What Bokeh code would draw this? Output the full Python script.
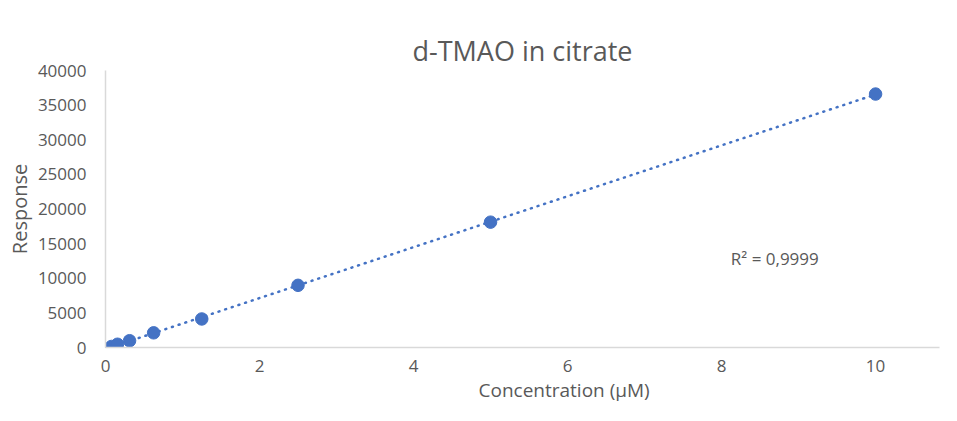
import numpy as np
from bokeh.plotting import figure
from bokeh.models import Range1d, Label, FixedTicker, Title
from bokeh.embed import file_html
from bokeh.resources import INLINE

# Data
concentration = [0.078, 0.156, 0.3125, 0.625, 1.25, 2.5, 5.0, 10.0]
response = [150, 470, 980, 2120, 4120, 8980, 18100, 36600]
x_ticks = [0, 2, 4, 6, 8, 10]
y_ticks = [0, 5000, 10000, 15000, 20000, 25000, 30000, 35000, 40000]
r2_text = "R² = 0,9999"
title_text = "d-TMAO in citrate"
x_label = "Concentration (µM)"
y_label = "Response"

BLUE = "#4472C4"
GREY = "#595959"
FONT = "Open Sans"

p = figure(width=941, height=405, output_backend="svg", toolbar_location=None,
           x_range=Range1d(0, 10.83), y_range=Range1d(0, 40000),
           min_border_left=105, min_border_right=2, min_border_top=70, min_border_bottom=58)
p.outline_line_color = None
p.xgrid.grid_line_color = None
p.ygrid.grid_line_color = None

xax = p.below[0]
yax = p.left[0]

# transparent spacer between title and plot area (added first = nearest the frame)
p.add_layout(Title(text=".", text_font_size="1px", text_alpha=0, standoff=24), "above")
p.add_layout(Title(text=title_text, align="center", text_font=FONT, text_font_size="27px",
                   text_font_style="normal", text_color=GREY, standoff=4), "above")

for ax in (xax, yax):
    ax.axis_line_color = "#d9d9d9"
    ax.axis_line_width = 1.5
    ax.major_tick_line_color = None
    ax.minor_tick_line_color = None
    ax.major_label_text_font = FONT
    ax.major_label_text_font_size = "17px"
    ax.major_label_text_color = GREY
    ax.axis_label_text_font = FONT
    ax.axis_label_text_font_size = "20px"
    ax.axis_label_text_font_style = "normal"
    ax.axis_label_text_color = GREY

xax.ticker = FixedTicker(ticks=x_ticks)
yax.ticker = FixedTicker(ticks=y_ticks)
xax.major_tick_out = 0
xax.major_label_standoff = 12
yax.major_label_standoff = 13
yax.axis_label = y_label
yax.axis_label_standoff = 2

p.add_layout(Title(text=x_label, align="left", offset=373, text_font=FONT,
                   text_font_size="19px", text_font_style="normal", text_color=GREY,
                   standoff=0), "below")

# linear trendline from the data
slope, intercept = np.polyfit(concentration, response, 1)
xs = [0.0, max(concentration)]
ys = [intercept + slope * v for v in xs]
p.line(xs, ys, line_color=BLUE, line_width=2.5, line_dash="1 6", line_cap="round")

p.scatter(concentration, response, size=12.5, fill_color=BLUE, line_color=BLUE)

p.add_layout(Label(x=8.12, y=12800, text=r2_text, text_font=FONT, text_font_size="17px",
                   text_color=GREY, text_baseline="middle", text_align="left"))

open("out.html", "w").write(file_html(p, INLINE))
